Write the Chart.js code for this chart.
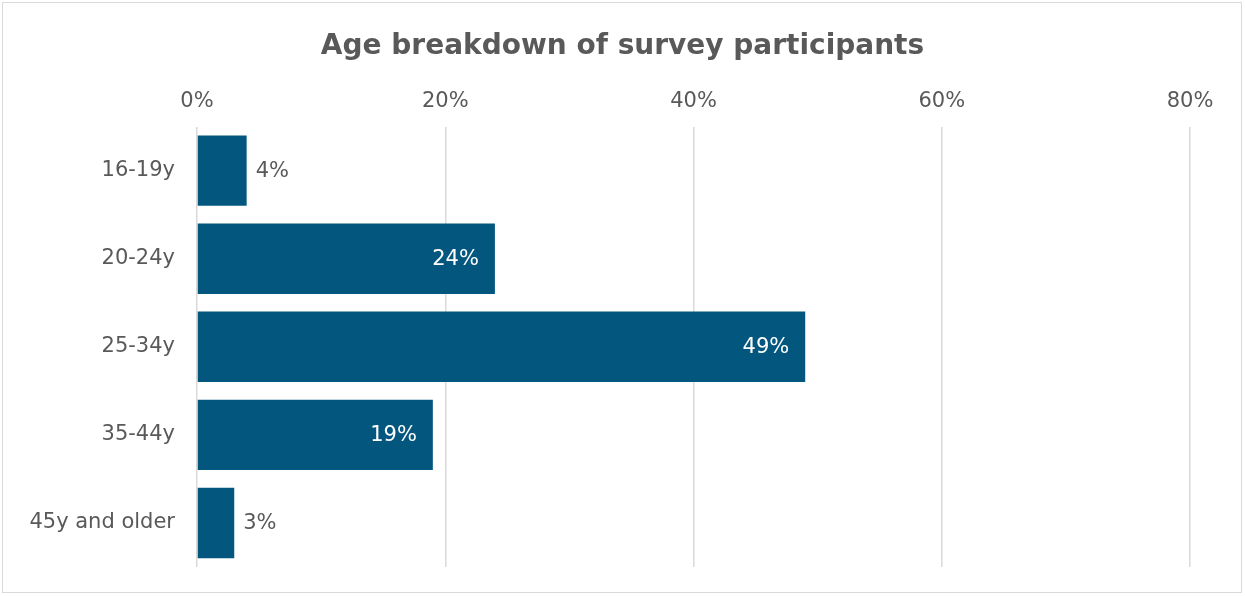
<!DOCTYPE html>
<html>
<head>
<meta charset="utf-8">
<script src="https://cdn.jsdelivr.net/npm/chart.js@4"></script>
<style>
  html, body { margin: 0; padding: 0; background: #fff; }
  #wrap { position: relative; width: 1245px; height: 596px; }
  #frame { position: absolute; left: 2px; top: 2px; width: 1240px; height: 591px; border: 1px solid #d9d9d9; box-sizing: border-box; pointer-events: none; }
  canvas { display: block; }
</style>
</head>
<body>
<div id="wrap">
  <canvas id="ch-age" width="1245" height="596"></canvas>
  <div id="frame"></div>
</div>
<script>
const ageGroups = ['16-19y', '20-24y', '25-34y', '35-44y', '45y and older'];
const shares = [4, 24, 49, 19, 3];
const axisMax = 80;
const axisStep = 20;

const FONT = '"DejaVu Sans", sans-serif';
const GRAY = '#595959';
const BAR = '#03577f';

// value labels: inside end (white) on long bars, outside end on short ones
const barLabels = {
    id: 'barLabels',
    afterDatasetsDraw(chart) {
        const ctx = chart.ctx;
        const meta = chart.getDatasetMeta(0);
        ctx.save();
        ctx.font = '21px ' + FONT;
        ctx.textBaseline = 'middle';
        meta.data.forEach((bar, i) => {
            const v = shares[i];
            const txt = v + '%';
            if (v >= 10) {
                ctx.fillStyle = '#ffffff';
                ctx.textAlign = 'right';
                ctx.fillText(txt, bar.x - 16, bar.y + 1);
            } else {
                ctx.fillStyle = GRAY;
                ctx.textAlign = 'left';
                ctx.fillText(txt, bar.x + 9, bar.y + 1);
            }
        });
        ctx.restore();
    }
};

new Chart(document.getElementById('ch-age'), {
    type: 'bar',
    data: {
        labels: ageGroups,
        datasets: [{ data: shares, backgroundColor: BAR, borderWidth: 0, categoryPercentage: 1, barPercentage: 0.8 }]
    },
    options: {
        indexAxis: 'y',
        responsive: false,
        animation: false,
        layout: { padding: { left: 0, right: 0, top: 0, bottom: 29 } },
        plugins: {
            legend: { display: false },
            tooltip: { enabled: false },
            title: {
                display: true,
                text: 'Age breakdown of survey participants',
                color: GRAY,
                font: { family: FONT, size: 28, weight: 'bold' },
                padding: { top: 30, bottom: 2 }
            }
        },
        scales: {
            x: {
                position: 'top',
                min: 0, max: axisMax,
                ticks: { stepSize: axisStep, color: GRAY, font: { family: FONT, size: 21 }, padding: 12, callback: v => v + '%' },
                grid: { color: '#d9d9d9', lineWidth: 1.5, drawTicks: false },
                border: { display: false },
                afterFit: s => { s.height = 61; s.paddingLeft = 0; s.paddingRight = 55; }
            },
            y: {
                ticks: { color: GRAY, font: { family: FONT, size: 21 }, padding: 22 },
                grid: { display: false, drawTicks: false },
                border: { display: false },
                afterFit: s => { s.width = 197; s.paddingTop = 0; s.paddingBottom = 0; }
            }
        }
    },
    plugins: [barLabels]
});
</script>
</body>
</html>
